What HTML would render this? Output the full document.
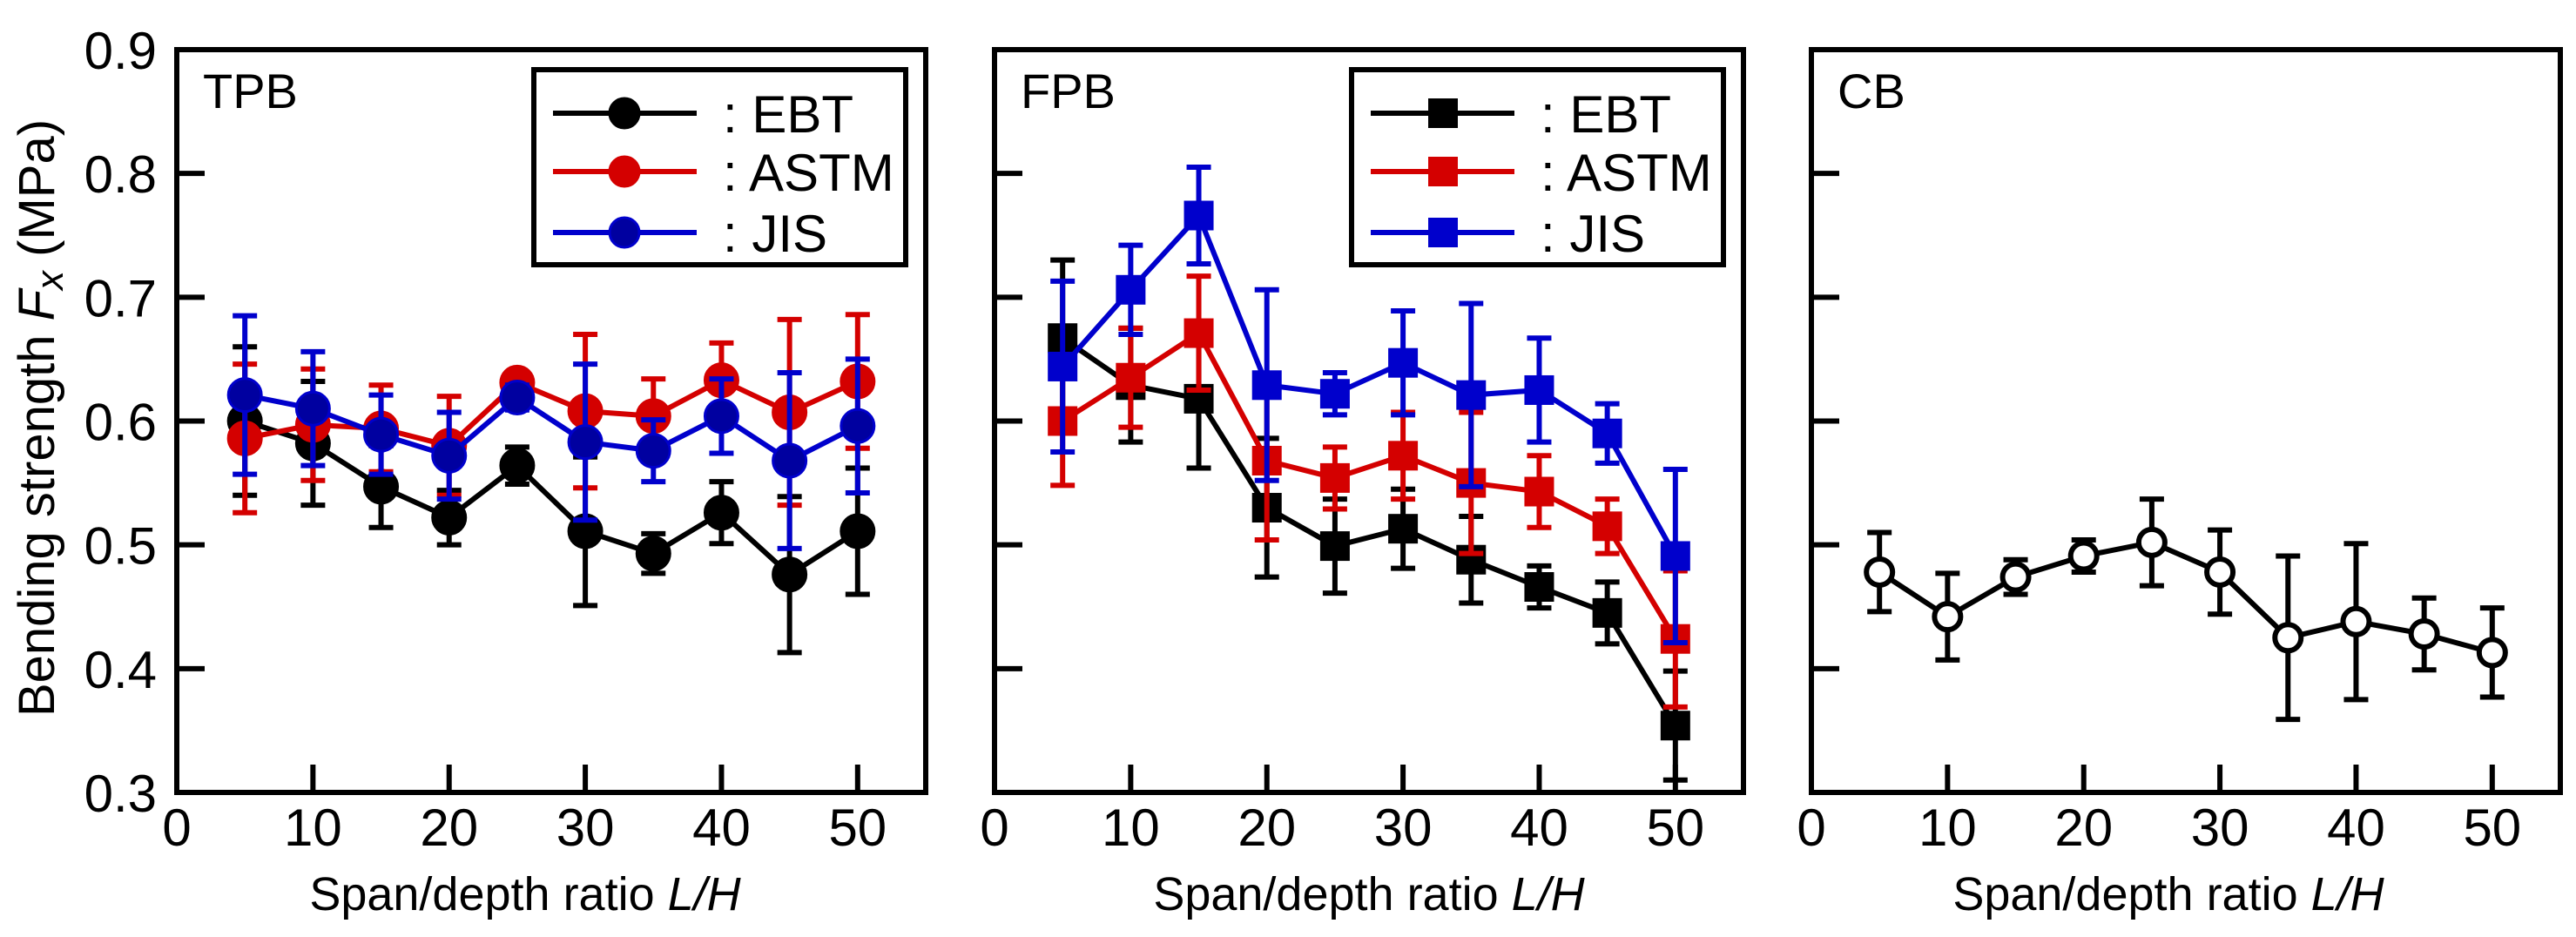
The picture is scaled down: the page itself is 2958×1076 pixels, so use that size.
<!DOCTYPE html>
<html><head><meta charset="utf-8">
<style>
html,body{margin:0;padding:0;background:#fff;}
svg{display:block;}
text{font-family:"Liberation Sans",Arial,sans-serif;fill:#000;}
</style></head>
<body>
<svg id="chart" width="2958" height="1076" viewBox="0 0 2958 1076" xmlns="http://www.w3.org/2000/svg"></svg>
<script>
const xCategories = [5,10,15,20,25,30,35,40,45,50];
const xTickLabels = [0,10,20,30,40,50];
const yTickLabels = ["0.3","0.4","0.5","0.6","0.7","0.8","0.9"];
const tpbEBT = [0.600,0.582,0.547,0.522,0.564,0.511,0.493,0.526,0.476,0.511];
const tpbEBTerr = [0.060,0.050,0.033,0.022,0.015,0.060,0.016,0.025,0.063,0.051];
const tpbASTM = [0.586,0.597,0.594,0.580,0.631,0.608,0.604,0.633,0.607,0.632];
const tpbASTMerr = [0.060,0.045,0.035,0.040,0.008,0.062,0.030,0.030,0.075,0.054];
const tpbJIS = [0.621,0.610,0.589,0.572,0.619,0.583,0.576,0.604,0.568,0.596];
const tpbJISerr = [0.064,0.046,0.032,0.035,0.010,0.063,0.025,0.030,0.071,0.054];
const fpbEBT = [0.667,0.629,0.618,0.530,0.499,0.513,0.488,0.466,0.445,0.354];
const fpbEBTerr = [0.063,0.046,0.056,0.056,0.038,0.032,0.035,0.017,0.025,0.044];
const fpbASTM = [0.600,0.635,0.671,0.568,0.554,0.572,0.550,0.543,0.515,0.424];
const fpbASTMerr = [0.052,0.040,0.046,0.064,0.025,0.035,0.057,0.029,0.022,0.055];
const fpbJIS = [0.644,0.706,0.766,0.629,0.622,0.647,0.621,0.625,0.590,0.491];
const fpbJISerr = [0.069,0.036,0.039,0.077,0.017,0.042,0.074,0.042,0.024,0.070];
const cbVal = [0.478,0.442,0.474,0.491,0.502,0.478,0.425,0.438,0.428,0.413];
const cbErr = [0.032,0.035,0.014,0.013,0.035,0.034,0.066,0.063,0.029,0.036];

const NS="http://www.w3.org/2000/svg";
const svg=document.getElementById('chart');
const TOP=57,BOT=910,W=860;
const panelLefts=[203,1142,2080];
const titleShift=[-30,0,-20];
const RED="#d40000",BLUE="#0000cc";
function el(tag,attrs,parent){const e=document.createElementNS(NS,tag);for(const k in attrs)e.setAttribute(k,attrs[k]);(parent||svg).appendChild(e);return e;}
function yS(v){return BOT-(v-0.3)/0.6*(BOT-TOP);}
function xS(L,v){return L+v/55*W;}

let yt=el('text',{x:0,y:0,'font-size':58,'text-anchor':'middle',transform:'translate(62,480) rotate(-90)'});


yt.innerHTML='Bending strength <tspan font-style="italic">F</tspan><tspan font-style="italic" font-size="44" dy="10">x</tspan><tspan dy="-10"> (MPa)</tspan>';

yTickLabels.forEach(t=>{
  const tx=el('text',{x:180,y:yS(parseFloat(t))+22,'font-size':60,'text-anchor':'end'});
  
  
  tx.textContent=t;
});

function drawPanel(idx,name,series,legendShape){
  const L=panelLefts[idx];
  const g=el('g',{});
  
  
  yTickLabels.forEach(t=>{const v=parseFloat(t);if(v>0.31&&v<0.89){const tk=el('line',{x1:L,x2:L+32,y1:yS(v),y2:yS(v),stroke:'#000','stroke-width':6},g);}});
  xTickLabels.forEach(v=>{
    if(v>0){const tk=el('line',{x1:xS(L,v),x2:xS(L,v),y1:BOT,y2:BOT-32,stroke:'#000','stroke-width':6},g);}
    const tl=el('text',{x:xS(L,v),y:971,'font-size':60,'text-anchor':'middle'},g);
    
    
    tl.textContent=v;
  });
  const xt=el('text',{x:L+W/2+titleShift[idx],y:1045,'font-size':54,'text-anchor':'middle'},g);
  
  
  xt.innerHTML='Span/depth ratio <tspan font-style="italic">L/H</tspan>';
  const pl=el('text',{x:L+30,y:124,'font-size':56},g);
  
  
  pl.textContent=name;
  series.forEach(s=>{
    const sg=el('g',{},g);
    
    
    s.vals.forEach((v,i)=>{
      const x=xS(L,xCategories[i]),y1=yS(v+s.err[i]),y2=yS(v-s.err[i]);
      const eb=el('path',{d:`M${x},${y1}V${y2}M${x-14},${y1}H${x+14}M${x-14},${y2}H${x+14}`,stroke:s.color,'stroke-width':6,fill:'none'},sg);
      
      
    });
    const pts=s.vals.map((v,i)=>xS(L,xCategories[i])+','+yS(v)).join(' ');
    const pl2=el('polyline',{points:pts,stroke:s.color,'stroke-width':6,fill:'none'},sg);
    
    
    s.vals.forEach((v,i)=>{
      const x=xS(L,xCategories[i]),y=yS(v);
      let m;
      if(s.shape==='circle') m=el('circle',{cx:x,cy:y,r:19,fill:s.fill,stroke:s.color,'stroke-width':3},sg);
      else if(s.shape==='open') m=el('circle',{cx:x,cy:y,r:15,fill:'#fff',stroke:'#000','stroke-width':6},sg);
      else m=el('rect',{x:x-17,y:y-17,width:34,height:34,fill:s.color},sg);
      
      
    });
  });
  const fr=el('rect',{x:L,y:TOP,width:W,height:BOT-TOP,fill:'none',stroke:'#000','stroke-width':6},g);
  
  
  if(legendShape){
    const lg=el('g',{},g);
    
    
    el('rect',{x:L+410,y:80,width:427,height:224,fill:'#fff',stroke:'#000','stroke-width':6},lg);
    const rows=[130,197,267];
    series.forEach((s,k)=>{
      const en=el('g',{},lg);
      
      
      el('line',{x1:L+432,x2:L+597,y1:rows[k],y2:rows[k],stroke:s.color,'stroke-width':6},en);
      if(legendShape==='circle') el('circle',{cx:L+514,cy:rows[k],r:17,fill:s.fill,stroke:s.color,'stroke-width':3},en);
      else el('rect',{x:L+498,y:rows[k]-17,width:34,height:34,fill:s.color},en);
      const t=el('text',{x:L+627,y:rows[k]+22,'font-size':60},en);
      t.textContent=': '+s.label;
    });
  }
}

drawPanel(0,'TPB',[
  {label:'EBT',vals:tpbEBT,err:tpbEBTerr,color:'#000',fill:'#000',shape:'circle'},
  {label:'ASTM',vals:tpbASTM,err:tpbASTMerr,color:RED,fill:RED,shape:'circle'},
  {label:'JIS',vals:tpbJIS,err:tpbJISerr,color:BLUE,fill:'#0000a0',shape:'circle'}
],'circle');
drawPanel(1,'FPB',[
  {label:'EBT',vals:fpbEBT,err:fpbEBTerr,color:'#000',fill:'#000',shape:'square'},
  {label:'ASTM',vals:fpbASTM,err:fpbASTMerr,color:RED,fill:RED,shape:'square'},
  {label:'JIS',vals:fpbJIS,err:fpbJISerr,color:BLUE,fill:BLUE,shape:'square'}
],'square');
drawPanel(2,'CB',[
  {label:'CB',vals:cbVal,err:cbErr,color:'#000',fill:'#fff',shape:'open'}
],null);
</script>
</body></html>
